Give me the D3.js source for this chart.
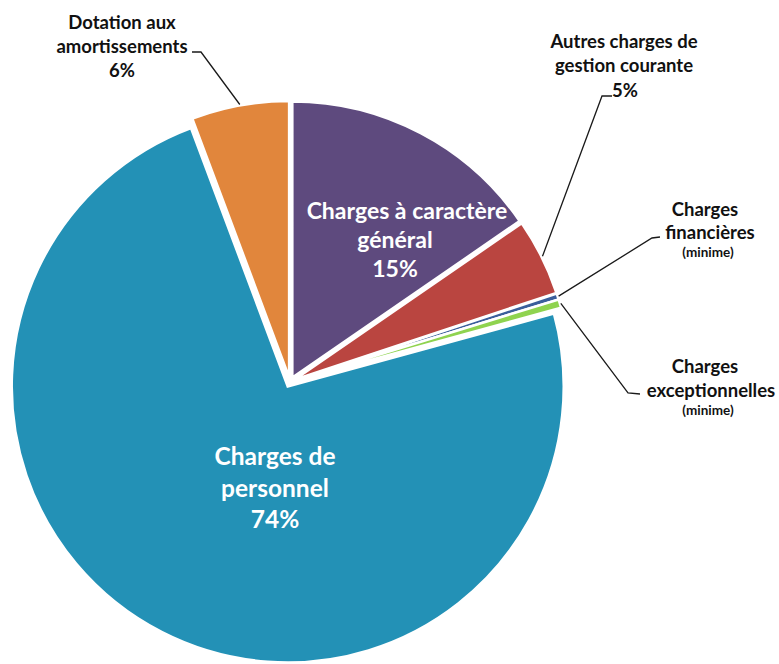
<!DOCTYPE html>
<html lang="fr">
<head>
<meta charset="utf-8">
<script src="https://cdn.jsdelivr.net/npm/d3@7"></script>
<style>
  html, body { margin: 0; padding: 0; background: #ffffff; }
  svg { display: block; }
  text { font-family: Lato, "Open Sans", sans-serif; font-weight: 700; }
</style>
</head>
<body>
<svg id="chart" width="779" height="664"></svg>
<script>
// Répartition des charges de fonctionnement (en % du total)
const categories = [
  "Charges à caractère général",
  "Autres charges de gestion courante",
  "Charges financières",
  "Charges exceptionnelles",
  "Charges de personnel",
  "Dotation aux amortissements"
];
const values = [15.4, 4.5, 0.35, 0.5, 73.55, 5.7];
const colors = ["#5e4a7e", "#ba4540", "#3a5e9b", "#8fd34f", "#2391b6", "#e1863c"];

const svg = d3.select("#chart");
const cx = 290, cy = 382, radius = 276, explode = 5;

const pie = d3.pie().sort(null).value(d => d.value).startAngle(0).endAngle(2 * Math.PI);
const arcs = pie(categories.map((c, i) => ({ name: c, value: values[i], color: colors[i] })));
const arc = d3.arc().innerRadius(0).outerRadius(radius);

const pct = v => Math.round(v) + "%";
const mid = d => (d.startAngle + d.endAngle) / 2;
// offset of an exploded slice along its bisector
const shift = d => [explode * Math.sin(mid(d)), -explode * Math.cos(mid(d))];
// point on a slice's outer edge at angle a
const edgePoint = (d, a, extra = 0) => {
  const [sx, sy] = shift(d);
  return [cx + sx + (radius + extra) * Math.sin(a), cy + sy - (radius + extra) * Math.cos(a)];
};

const g = svg.append("g").attr("transform", `translate(${cx},${cy})`);
g.selectAll("path.slice")
  .data(arcs)
  .join("path")
  .attr("class", "slice")
  .attr("transform", d => `translate(${shift(d)[0]},${shift(d)[1]})`)
  .attr("d", arc)
  .attr("fill", d => d.data.color)
  .attr("stroke", "#ffffff")
  .attr("stroke-width", 2.5)
  .attr("stroke-linejoin", "miter");

// multi-line centred text block
function block(lines, x, ys, size, fill) {
  const t = svg.append("g");
  lines.forEach((ln, i) => {
    t.append("text")
      .attr("x", Array.isArray(x) ? x[i] : x)
      .attr("y", ys[i])
      .attr("text-anchor", "middle")
      .attr("font-size", Array.isArray(size) ? size[i] : size)
      .attr("fill", fill)
      .text(ln);
  });
}

// labels inside the two largest slices
block(["Charges à caractère", "général", pct(values[0])], [407, 395, 395], [219, 248, 277], 23, "#ffffff");
block(["Charges de", "personnel", pct(values[4])], 275, [465, 497, 528], 24.5, "#ffffff");

// outside labels
block(["Dotation aux", "amortissements", pct(values[5])], 122, [29, 53, 77], 18.5, "#111111");
block(["Autres charges de", "gestion courante", pct(values[1])], [624, 624, 625], [48, 72, 97], 18.5, "#111111");
block(["Charges", "financières", "(minime)"], [705, 710, 708], [216, 239, 257], [18.5, 18.5, 13.5], "#111111");
block(["Charges", "exceptionnelles", "(minime)"], [705, 711, 708], [373, 397, 415], [18.5, 18.5, 13.5], "#111111");

// leader lines from slice edges to their labels
const leaders = [
  { i: 5, pts: [[201, 52], [192, 52]] },
  { i: 1, pts: [[602, 96], [612, 96]] },
  { i: 2, pts: [[652, 238], [660, 237]] },
  { i: 3, pts: [[628, 393], [640, 394]] }
];
const line = d3.line();
leaders.forEach(l => {
  const d = arcs[l.i];
  const start = edgePoint(d, mid(d), 1);
  svg.append("path")
    .attr("d", line([start, ...l.pts]))
    .attr("fill", "none")
    .attr("stroke", "#1a1a1a")
    .attr("stroke-width", 1.3);
});
</script>
</body>
</html>
